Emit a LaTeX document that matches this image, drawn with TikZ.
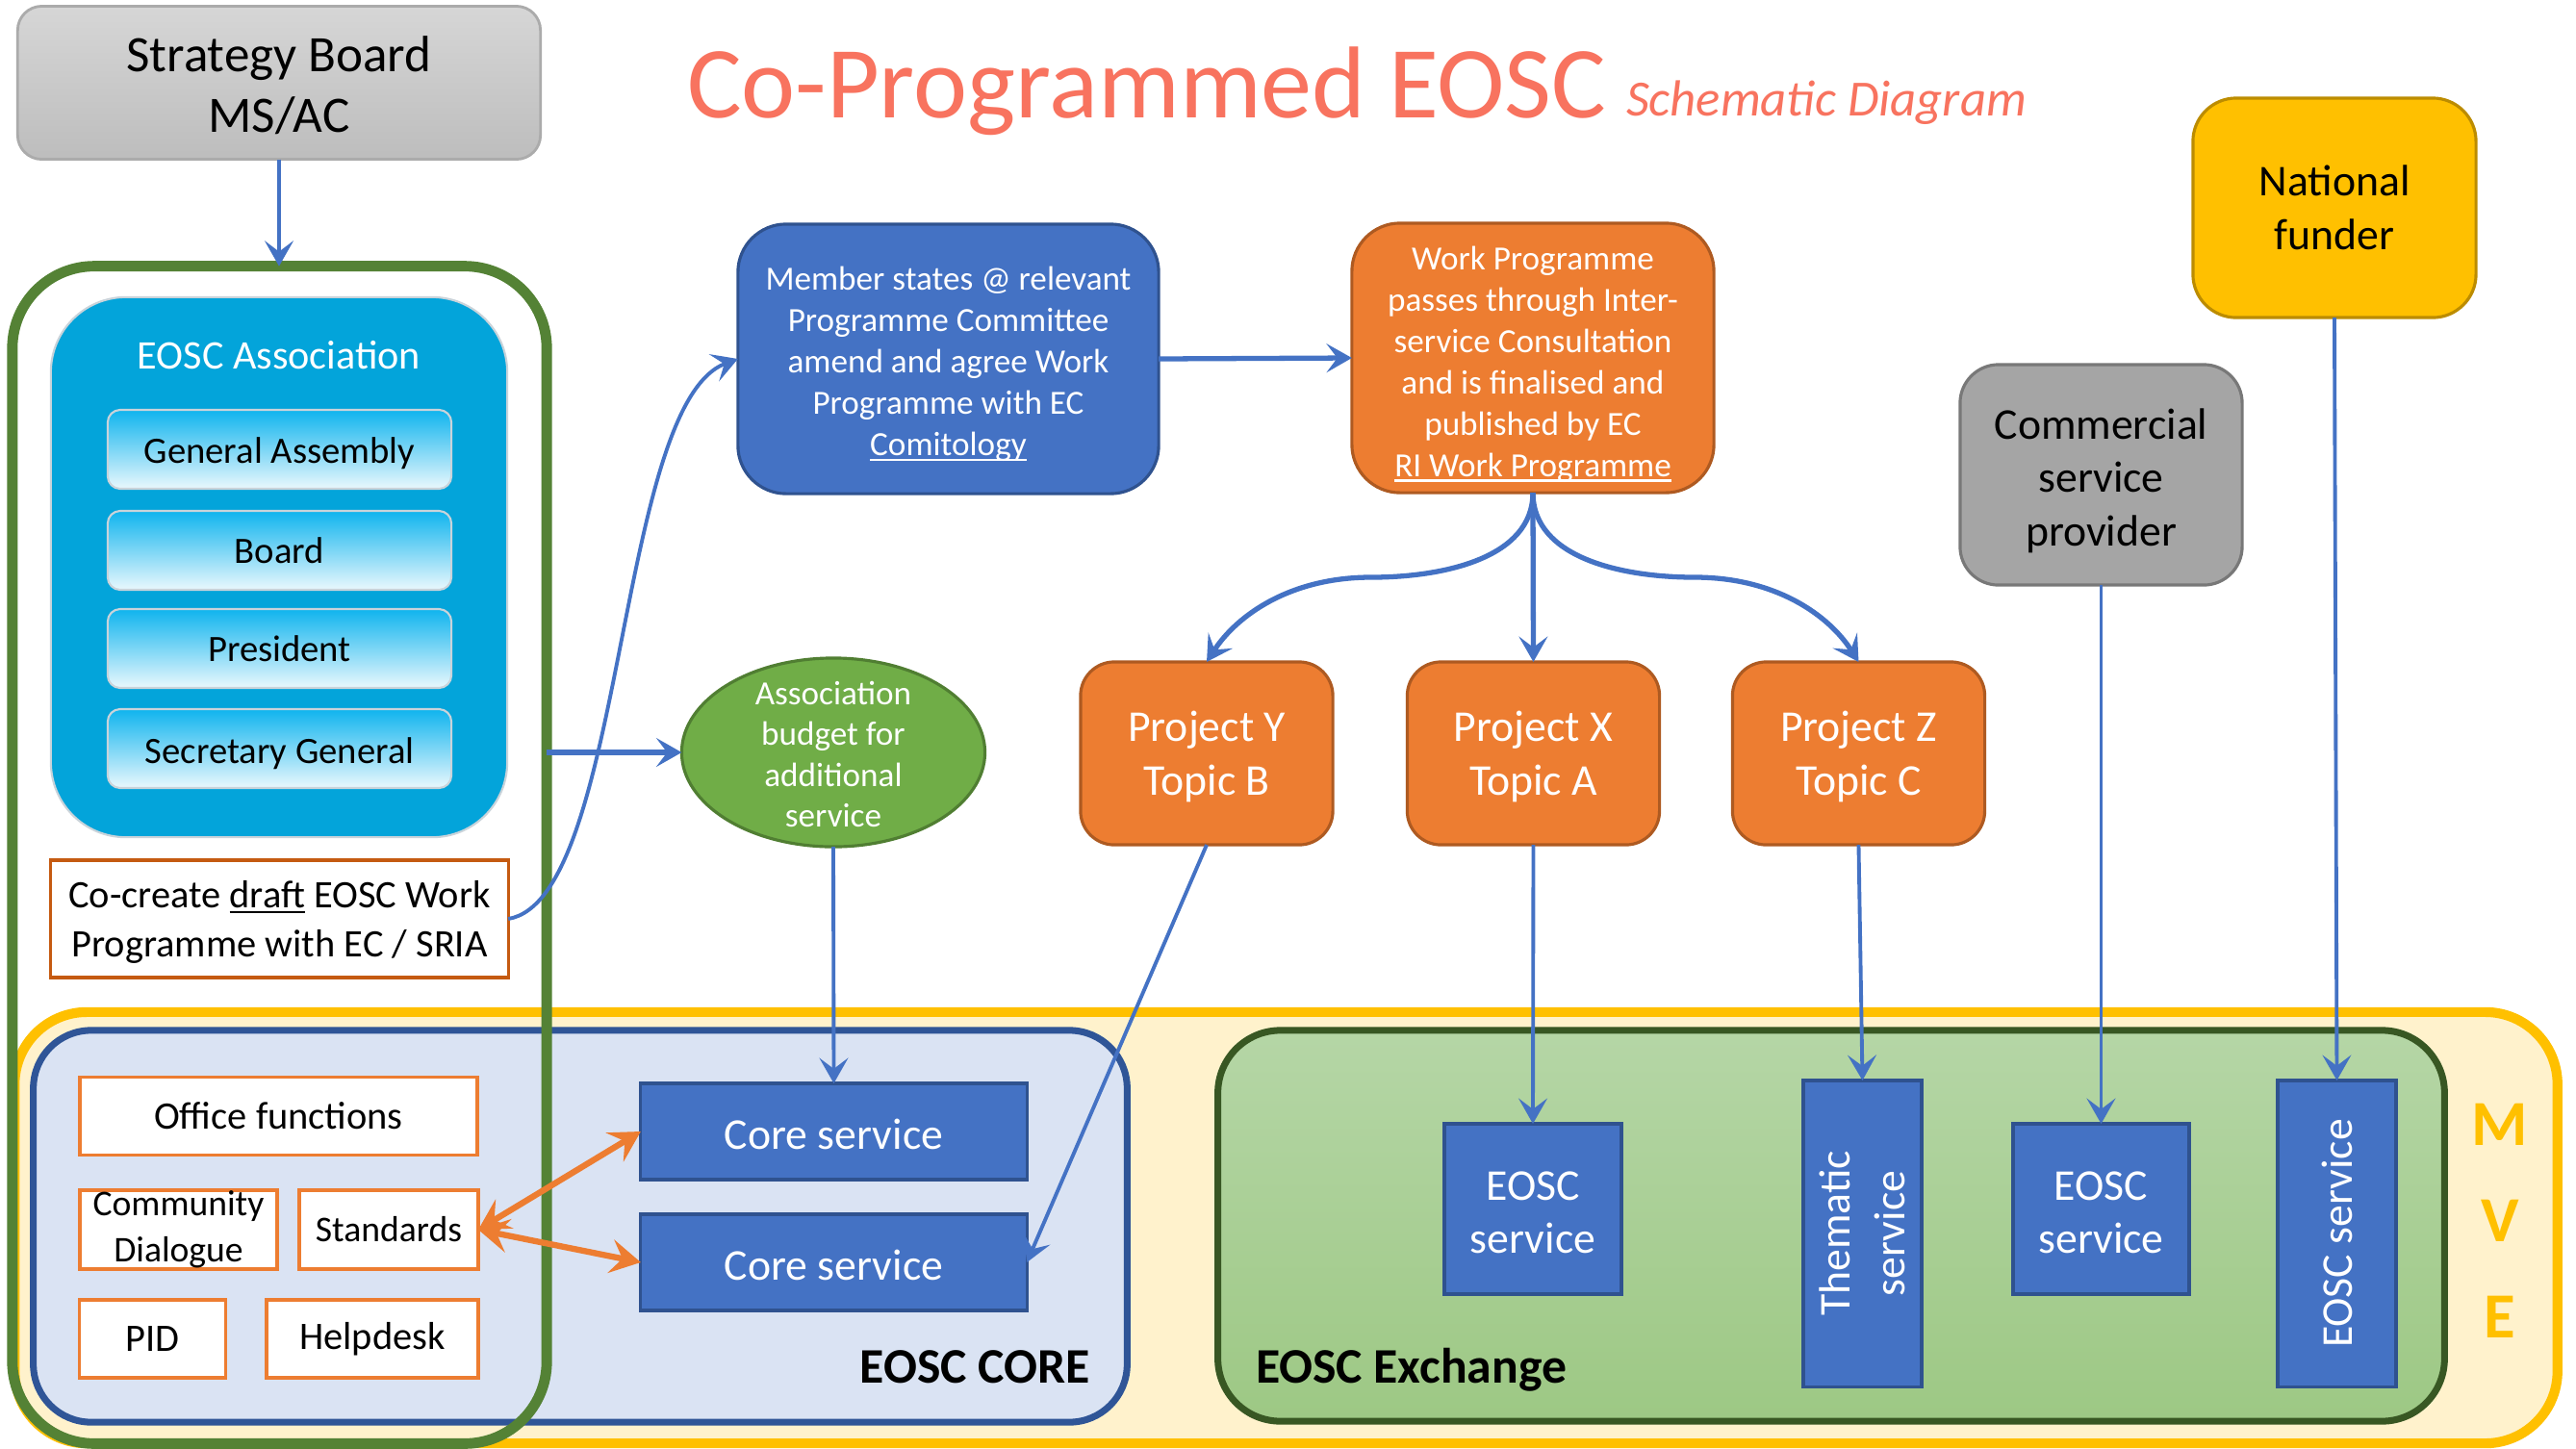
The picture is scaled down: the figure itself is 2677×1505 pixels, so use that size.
\documentclass[tikz,border=0pt]{standalone}
\usepackage{fontspec}
\setmainfont{Carlito}
\usetikzlibrary{arrows.meta,shapes.geometric}
\definecolor{cblue}{HTML}{4472C4}
\definecolor{cbluedk}{HTML}{2F528F}
\definecolor{corange}{HTML}{ED7D31}
\definecolor{corangedk}{HTML}{AE5A21}
\definecolor{cgreen}{HTML}{70AD47}
\definecolor{cgreendk}{HTML}{507E32}
\definecolor{cframe}{HTML}{548235}
\definecolor{cgray}{HTML}{A5A5A5}
\definecolor{cgraydk}{HTML}{787878}
\definecolor{cyellow}{HTML}{FFC000}
\definecolor{cyellowdk}{HTML}{BC8C00}
\definecolor{cmvefill}{HTML}{FFF2CC}
\definecolor{ccorefill}{HTML}{DAE3F3}
\definecolor{ccoreline}{HTML}{2F5597}
\definecolor{cexchtop}{HTML}{B5D6A6}
\definecolor{cexchbot}{HTML}{9DC884}
\definecolor{cexchline}{HTML}{385723}
\definecolor{cassoc}{HTML}{03A4DA}
\definecolor{csubtop}{HTML}{0FB4EE}
\definecolor{csubbot}{HTML}{EAF8FD}
\definecolor{csubline}{HTML}{C9D3DA}
\definecolor{cstrattop}{HTML}{D6D6D6}
\definecolor{cstratbot}{HTML}{BDBDBD}
\definecolor{cstratline}{HTML}{ABABAB}
\definecolor{ctitle}{HTML}{F8735F}
\definecolor{ccocreate}{HTML}{C55A11}
\newcommand{\myfs}[2]{\fontsize{#1pt}{#2pt}\selectfont}
\newcommand{\tp}[1]{\rule{0pt}{#1}}
\newcommand{\myul}[1]{\setbox0\hbox{#1}\rlap{\rule[-1.6pt]{\wd0}{0.7pt}}\box0\relax}
\begin{document}
\begin{tikzpicture}[x=0.01cm,y=-0.01cm,
  base/.style={inner sep=0pt,outer sep=0pt,align=center},
  bluebox/.style={base,fill=cblue,draw=cbluedk,line width=0.9pt,text=white},
  orgbox/.style={base,fill=corange,draw=corangedk,line width=0.9pt,text=white},
  whitebox/.style={base,fill=white,draw=corange,line width=1pt,text=black},
  subbox/.style={base,top color=csubtop,bottom color=csubbot,draw=csubline,line width=0.6pt,rounded corners=0.13cm,minimum width=3.57cm,minimum height=0.82cm,font=\myfs{11}{13.4}},
  barrow/.style={draw=cblue,line width=1.1pt,-{Stealth[length=7.5pt,width=8.5pt,inset=3.2pt]}},
  bthick/.style={barrow,line width=1.5pt},
  oarrow/.style={draw=corange,line width=1.8pt,{Stealth[length=9pt,width=10pt,inset=3.5pt]}-{Stealth[length=9pt,width=10pt,inset=3.5pt]}},
  lbl/.style={inner sep=0pt,outer sep=0pt},
]
\useasboundingbox (0,0) rectangle (2677,1505);
\fill[white] (0,0) rectangle (2677,1505);

% ---- title
\node[lbl,anchor=base west,text=ctitle,font=\myfs{30.2}{36}] (title) at (714,122) {Co-Programmed EOSC};
\node[lbl,anchor=base west,text=ctitle,font=\myfs{15}{18}\itshape] (subtitle) at (1690,120) {Schematic Diagram};

% ---- background containers
\node[base,draw=cyellow,fill=cmvefill,line width=2.9pt,rounded corners=0.75cm,minimum width=26.41cm,minimum height=4.48cm] (mve) at (1336.5,1276) {};
\node[base,draw=ccoreline,fill=ccorefill,line width=2pt,rounded corners=0.6cm,minimum width=11.36cm,minimum height=4.07cm] (core) at (603,1274.5) {};
\node[base,draw=cexchline,top color=cexchtop,bottom color=cexchbot,line width=2pt,rounded corners=0.65cm,minimum width=12.74cm,minimum height=4.06cm] (exch) at (1903,1274) {};
\node[lbl,anchor=base east,font=\myfs{14.7}{18}\bfseries] (corelbl) at (1133,1437) {EOSC CORE};
\node[lbl,anchor=base west,font=\myfs{14.7}{18}\bfseries] (exchlbl) at (1305,1437) {EOSC Exchange};
\node[lbl,anchor=base,text=cyellow,font=\myfs{19}{23}\bfseries] (mvem) at (2598,1190) {M};
\node[lbl,anchor=base,text=cyellow,font=\myfs{19}{23}\bfseries] (mvev) at (2598,1290) {V};
\node[lbl,anchor=base,text=cyellow,font=\myfs{19}{23}\bfseries] (mvee) at (2598,1390) {E};

% ---- strategy board and association frame
\node[base,draw=cstratline,top color=cstrattop,bottom color=cstratbot,line width=0.8pt,rounded corners=0.25cm,minimum width=5.43cm,minimum height=1.59cm,font=\myfs{15.1}{17.9}] (strat) at (290,86) {\tp{12.2pt}Strategy Board\\MS/AC};
\node[base,draw=cframe,line width=3.1pt,rounded corners=0.85cm,minimum width=5.55cm,minimum height=12.23cm] (assoc) at (290.5,888.5) {};
\node[base,fill=cassoc,draw=csubline,line width=0.6pt,rounded corners=0.78cm,minimum width=4.74cm,minimum height=5.61cm] (assocbox) at (290,589.5) {};
\node[lbl,text=white,font=\myfs{12}{14.6}] (assoctitle) at (290,369) {EOSC Association};
\node[subbox] (ga) at (290.5,467) {\tp{9.9pt}General Assembly};
\node[subbox] (board) at (290.5,572) {Board};
\node[subbox] (pres) at (290.5,674) {President};
\node[subbox] (sg) at (290.5,778) {\tp{10.3pt}Secretary General};
\node[base,fill=white,draw=ccocreate,line width=0.9pt,minimum width=4.75cm,minimum height=1.22cm,font=\myfs{11.5}{14.6}] (cocreate) at (290.5,955) {\tp{10.1pt}Co-create \myul{draft} EOSC Work\\Programme with EC / SRIA};

% ---- budget ellipse
\node[ellipse,inner sep=0pt,outer sep=0pt,fill=cgreen,draw=cgreendk,line width=0.9pt,minimum width=3.15cm,minimum height=1.96cm] (budget) at (866,782) {};
\node[lbl,align=center,text=white,font=\myfs{10}{12.1}] (budgettxt) at (866,784) {Association\\budget for\\additional\\service};

% ---- programme boxes
\node[bluebox,rounded corners=0.5cm,minimum width=4.37cm,minimum height=2.8cm,font=\myfs{10}{12.2}] (member) at (985.5,373) {\tp{10pt}Member states @ relevant\\Programme Committee\\amend and agree Work\\Programme with EC\\\myul{Comitology}};
\node[orgbox,rounded corners=0.5cm,minimum width=3.76cm,minimum height=2.8cm,font=\myfs{10}{12.2}] (wp) at (1593,372) {\tp{10.8pt}Work Programme\\passes through Inter-\\service Consultation\\and is finalised and\\published by EC\\\myul{RI Work Programme}};

\node[orgbox,rounded corners=0.35cm,minimum width=2.62cm,minimum height=1.9cm,font=\myfs{13}{15.9}] (projy) at (1254,783) {\tp{10.8pt}Project Y\\Topic B};
\node[orgbox,rounded corners=0.35cm,minimum width=2.62cm,minimum height=1.9cm,font=\myfs{13}{15.9}] (projx) at (1593.5,783) {\tp{10.8pt}Project X\\Topic A};
\node[orgbox,rounded corners=0.35cm,minimum width=2.62cm,minimum height=1.9cm,font=\myfs{13}{15.9}] (projz) at (1931.5,783) {\tp{10.8pt}Project Z\\Topic C};

\node[base,fill=cyellow,draw=cyellowdk,line width=0.9pt,rounded corners=0.45cm,minimum width=2.94cm,minimum height=2.28cm,font=\myfs{13}{15.9}] (national) at (2426,216) {National\\funder};
\node[base,fill=cgray,draw=cgraydk,line width=0.9pt,rounded corners=0.4cm,minimum width=2.93cm,minimum height=2.29cm,font=\myfs{13}{15.7}] (commercial) at (2183.5,493.5) {\tp{12.5pt}Commercial\\service\\provider};

% ---- EOSC core contents
\node[whitebox,minimum width=4.13cm,minimum height=0.81cm,font=\myfs{11.5}{14}] (office) at (289.5,1160) {Office functions};
\node[whitebox,minimum width=2.05cm,minimum height=0.82cm,font=\myfs{10.7}{13.6}] (community) at (185.5,1278) {Community\\Dialogue};
\node[whitebox,minimum width=1.86cm,minimum height=0.82cm,font=\myfs{10.7}{13.6}] (standards) at (404,1278) {Standards};
\node[whitebox,minimum width=1.52cm,minimum height=0.81cm,font=\myfs{11.5}{14}] (pid) at (158.5,1391.5) {PID};
\node[whitebox,minimum width=2.2cm,minimum height=0.81cm,font=\myfs{11.5}{14}] (helpdesk) at (387,1391.5) {Helpdesk};
\node[bluebox,minimum width=4.01cm,minimum height=1cm,font=\myfs{13}{15.9}] (core1) at (866.5,1176) {\tp{10.6pt}Core service};
\node[bluebox,minimum width=4.01cm,minimum height=1cm,font=\myfs{13}{15.9}] (core2) at (866.5,1312) {\tp{10.6pt}Core service};

% ---- EOSC exchange contents
\node[bluebox,minimum width=1.84cm,minimum height=1.77cm,font=\myfs{13}{15.9}] (es1) at (1593,1256.5) {\tp{10.6pt}EOSC\\service};
\node[bluebox,rotate=90,minimum width=3.18cm,minimum height=1.23cm,font=\myfs{13}{16.2}] (them) at (1935.5,1282) {Thematic\\service};
\node[bluebox,minimum width=1.83cm,minimum height=1.77cm,font=\myfs{13}{15.9}] (es2) at (2183.5,1256.5) {\tp{10.6pt}EOSC\\service};
\node[bluebox,rotate=90,minimum width=3.18cm,minimum height=1.23cm,font=\myfs{13}{16.2}] (esv) at (2428.5,1282) {EOSC service};

% ---- connectors
\draw[barrow] (strat.south) -- (strat.south |- assoc.north);
\draw[bthick] (assoc.east |- budget.west) -- (budget.west);
\draw[barrow] (cocreate.east) .. controls (650,935) and (640,420) .. (member.west);
\draw[bthick] (member.east) -- (wp.west);
\draw[bthick] (wp.south) -- (projx.north);
\coordinate (ybend) at (1425,600);
\coordinate (zbend) at (1761,600);
\draw[bthick] (wp.south) .. controls (1593,580) and (1500,600) .. (ybend) .. controls (1340,600) and (1285,640) .. (projy.north);
\draw[bthick] (wp.south) .. controls (1593,580) and (1686,600) .. (zbend) .. controls (1846,600) and (1901,640) .. (projz.north);
\draw[barrow] (budget.south) -- (core1.north);
\draw[barrow] (projy.south) -- (core2.east);
\draw[barrow] (projx.south) -- (es1.north);
\draw[barrow] (projz.south) -- (them.east);
\draw[barrow] (commercial.south) -- (es2.north);
\draw[barrow] (national.south) -- (esv.east);
\draw[oarrow] (standards.east) -- (core1.west);
\draw[oarrow] (standards.east) -- (core2.west);
\end{tikzpicture}
\end{document}
